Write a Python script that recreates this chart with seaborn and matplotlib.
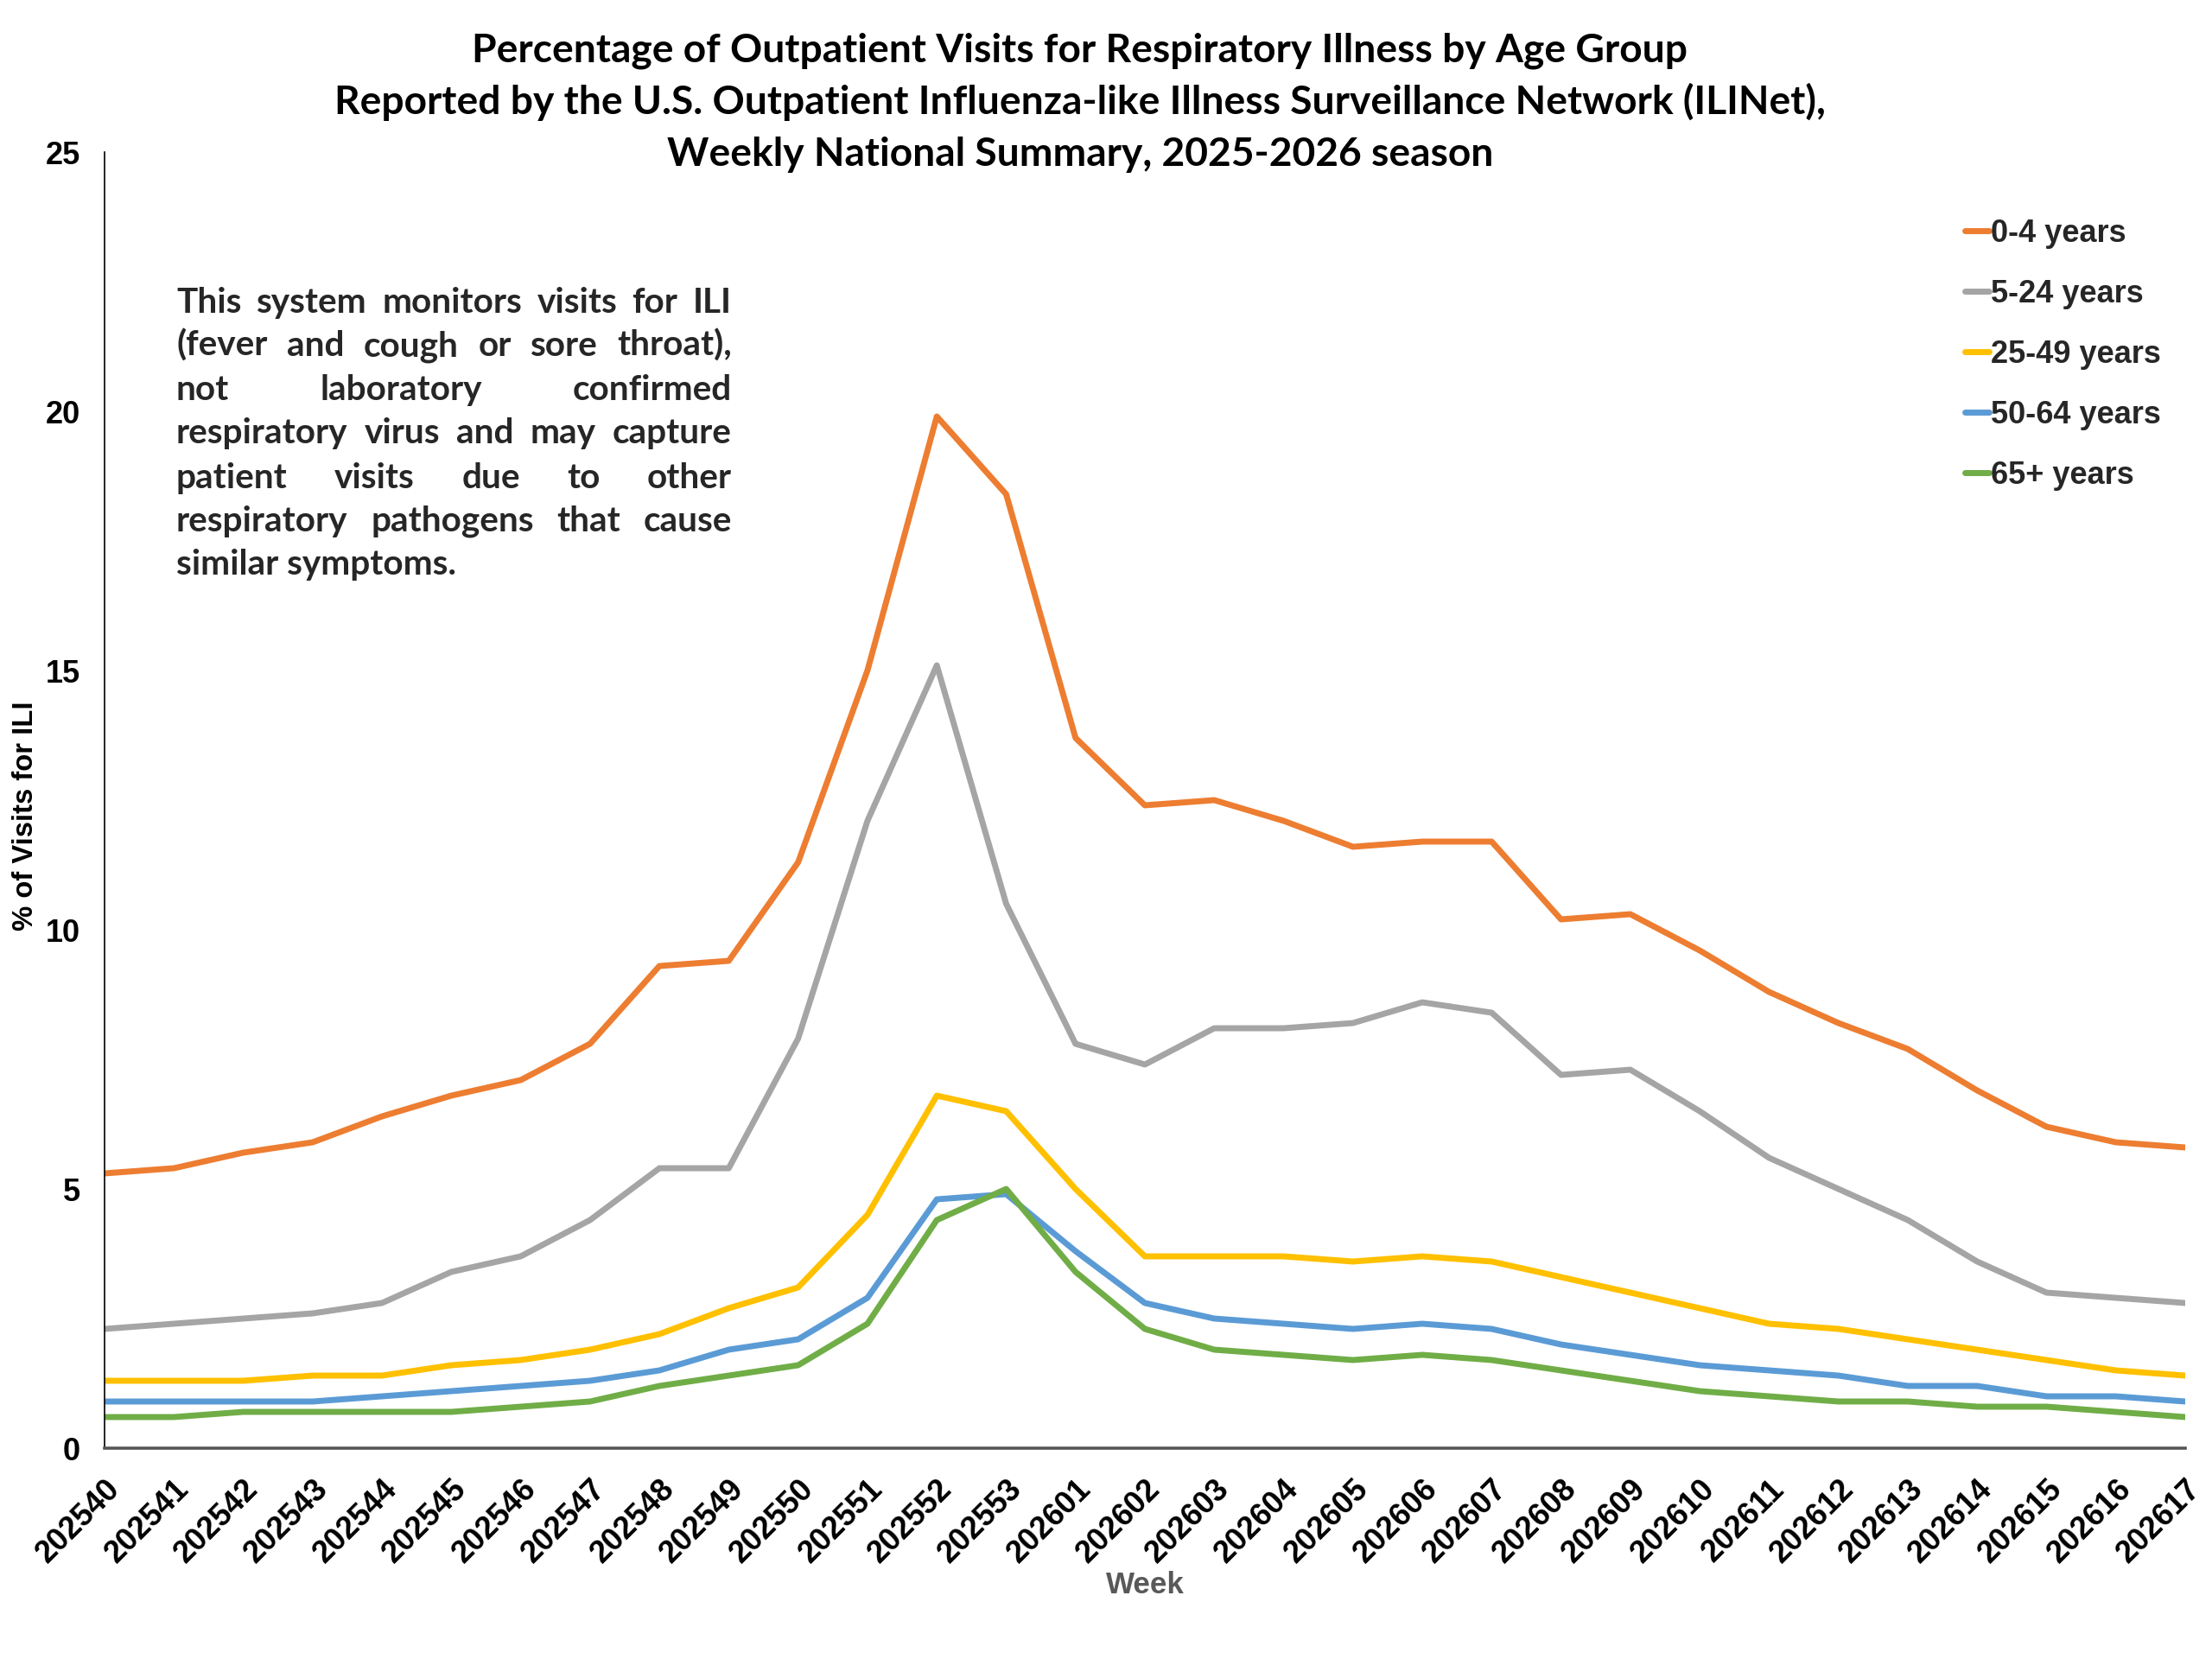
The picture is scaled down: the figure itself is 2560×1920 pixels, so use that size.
import matplotlib
matplotlib.use("Agg")
import matplotlib.pyplot as plt
import seaborn as sns
import pandas as pd

# ---------------- data ----------------
weeks = ["202540", "202541", "202542", "202543", "202544", "202545", "202546",
         "202547", "202548", "202549", "202550", "202551", "202552", "202553",
         "202601", "202602", "202603", "202604", "202605", "202606", "202607",
         "202608", "202609", "202610", "202611", "202612", "202613", "202614",
         "202615", "202616", "202617"]

groups = ["0-4 years", "5-24 years", "25-49 years", "50-64 years", "65+ years"]

age_0_4 = [5.3, 5.4, 5.7, 5.9, 6.4, 6.8, 7.1, 7.8, 9.3, 9.4, 11.3, 15.0, 19.9, 18.4,
           13.7, 12.4, 12.5, 12.1, 11.6, 11.7, 11.7, 10.2, 10.3, 9.6, 8.8, 8.2, 7.7,
           6.9, 6.2, 5.9, 5.8]
age_5_24 = [2.3, 2.4, 2.5, 2.6, 2.8, 3.4, 3.7, 4.4, 5.4, 5.4, 7.9, 12.1, 15.1, 10.5,
            7.8, 7.4, 8.1, 8.1, 8.2, 8.6, 8.4, 7.2, 7.3, 6.5, 5.6, 5.0, 4.4,
            3.6, 3.0, 2.9, 2.8]
age_25_49 = [1.3, 1.3, 1.3, 1.4, 1.4, 1.6, 1.7, 1.9, 2.2, 2.7, 3.1, 4.5, 6.8, 6.5,
             5.0, 3.7, 3.7, 3.7, 3.6, 3.7, 3.6, 3.3, 3.0, 2.7, 2.4, 2.3, 2.1,
             1.9, 1.7, 1.5, 1.4]
age_50_64 = [0.9, 0.9, 0.9, 0.9, 1.0, 1.1, 1.2, 1.3, 1.5, 1.9, 2.1, 2.9, 4.8, 4.9,
             3.8, 2.8, 2.5, 2.4, 2.3, 2.4, 2.3, 2.0, 1.8, 1.6, 1.5, 1.4, 1.2,
             1.2, 1.0, 1.0, 0.9]
age_65p = [0.6, 0.6, 0.7, 0.7, 0.7, 0.7, 0.8, 0.9, 1.2, 1.4, 1.6, 2.4, 4.4, 5.0,
           3.4, 2.3, 1.9, 1.8, 1.7, 1.8, 1.7, 1.5, 1.3, 1.1, 1.0, 0.9, 0.9,
           0.8, 0.8, 0.7, 0.6]

series = [age_0_4, age_5_24, age_25_49, age_50_64, age_65p]
colors = ["#ED7D31", "#A5A5A5", "#FFC000", "#5B9BD5", "#70AD47"]

title_lines = ["Percentage of Outpatient Visits for Respiratory Illness by Age Group",
               "Reported by the U.S. Outpatient Influenza-like Illness Surveillance Network (ILINet),",
               "Weekly National Summary, 2025-2026 season"]
note_lines = ["This system monitors visits for ILI",
              "(fever and cough or sore throat),",
              "not laboratory confirmed",
              "respiratory virus and may capture",
              "patient visits due to other",
              "respiratory pathogens that cause",
              "similar symptoms."]

# ---------------- long-form table ----------------
rows = []
for g, vals in zip(groups, series):
    for i, (w, v) in enumerate(zip(weeks, vals)):
        rows.append({"pos": i, "week": w, "group": g, "value": v})
df = pd.DataFrame(rows)

# ---------------- style ----------------
sns.set_theme(style="white")
plt.rcParams["font.family"] = ["Liberation Sans", "DejaVu Sans"]
plt.rcParams["font.weight"] = "bold"

W, H = 2560, 1920
DPI = 200
fig = plt.figure(figsize=(W / DPI, H / DPI), dpi=DPI)
fig.patch.set_facecolor("white")

ax_l, ax_r, ax_t, ax_b = 121, 2529, 176, 1676
ax = fig.add_axes([ax_l / W, 1 - ax_b / H, (ax_r - ax_l) / W, (ax_b - ax_t) / H])

sns.lineplot(data=df, x="pos", y="value", hue="group", hue_order=groups,
             palette=colors, linewidth=2.5, ax=ax, sort=True, legend=False)

ax.set_xlim(0, len(weeks) - 1)
ax.set_ylim(0, 25)
ax.set_yticks([0, 5, 10, 15, 20, 25])
ax.set_xticks(range(len(weeks)))
ax.set_xticklabels(weeks, rotation=45, ha="right", va="top", rotation_mode="anchor")

for sp in ["top", "right"]:
    ax.spines[sp].set_visible(False)
ax.spines["left"].set_color("black")
ax.spines["left"].set_linewidth(0.6)
ax.spines["bottom"].set_color("#555555")
ax.spines["bottom"].set_linewidth(1.3)

ax.tick_params(axis="both", which="major", direction="inout", length=7.5,
               width=0.6, color="black", labelcolor="black")
ax.tick_params(axis="y", labelsize=13, pad=6.5)
ax.tick_params(axis="x", labelsize=13, pad=7.0)
for lab in ax.get_xticklabels() + ax.get_yticklabels():
    lab.set_fontweight("bold")

ax.set_xlabel("Week", fontsize=12.6, fontweight="bold", color="#595959")
ax.xaxis.set_label_coords(0.5, -0.095)
ax.set_ylabel("% of Visits for ILI", fontsize=11.8, fontweight="bold",
              color="black", va="center")
ax.yaxis.set_label_coords(-0.0378, 0.488)

# ---------------- legend ----------------
handles = ax.get_lines()[:len(groups)]
leg = ax.legend(handles, groups, loc="upper left",
                bbox_to_anchor=(2274 / W, 1 - 253 / H),
                bbox_transform=fig.transFigure, frameon=False,
                prop={"family": ["Liberation Sans", "DejaVu Sans"],
                      "weight": "bold", "size": 13},
                handlelength=0.77, handletextpad=0.05, labelspacing=0.97,
                borderpad=0, borderaxespad=0)

renderer = fig.canvas.get_renderer()

# ---------------- title (three centred lines) ----------------
title_font = ["Lato", "DejaVu Sans"]
probe = fig.text(0, 0, title_lines[1], fontsize=14, fontweight="bold",
                 family=title_font)
tw = probe.get_window_extent(renderer).width
probe.remove()
title_fs = 14 * 1720 / tw
for line, yb in zip(title_lines, [71, 132, 192]):
    fig.text(1250 / W, 1 - yb / H, line, ha="center", va="baseline",
             fontsize=title_fs, fontweight="bold", family=title_font, color="black")

# ---------------- justified note ----------------
probe = fig.text(0, 0, note_lines[-1], fontsize=12, fontweight="bold",
                 family=title_font)
nw = probe.get_window_extent(renderer).width
probe.remove()
note_fs = 12 * 325 / nw
x0, x1 = 204, 847
baselines = [362, 412, 463, 513, 565, 615, 665]
for k, (line, yb) in enumerate(zip(note_lines, baselines)):
    if k == len(note_lines) - 1:
        fig.text(x0 / W, 1 - yb / H, line, ha="left", va="baseline",
                 fontsize=note_fs, fontweight="bold", family=title_font)
        continue
    words = line.split()
    texts = [fig.text(0, 1 - yb / H, w, ha="left", va="baseline",
                      fontsize=note_fs, fontweight="bold", family=title_font)
             for w in words]
    widths = [t.get_window_extent(renderer).width for t in texts]
    gap = (x1 - x0 - sum(widths)) / (len(words) - 1)
    x = x0
    for t, wd in zip(texts, widths):
        t.set_x(x / W)
        x += wd + gap

fig.savefig("out.png", dpi=DPI, facecolor="white")
